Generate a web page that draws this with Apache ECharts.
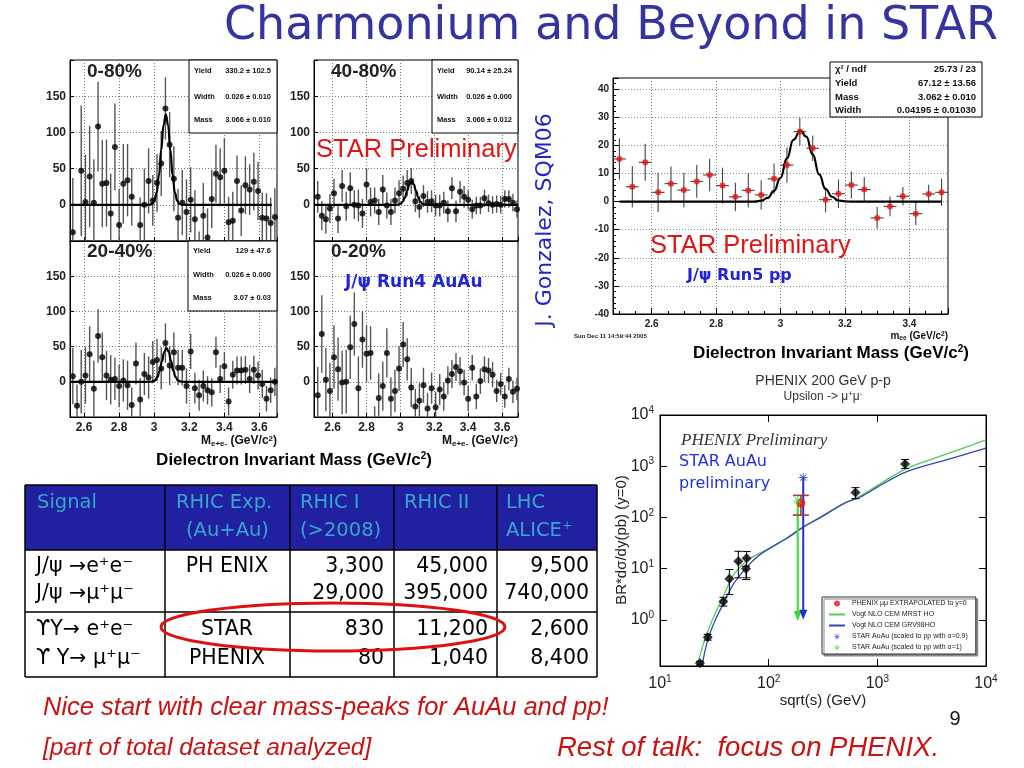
<!DOCTYPE html>
<html><head><meta charset="utf-8">
<script src="https://cdn.jsdelivr.net/npm/echarts@6/dist/echarts.min.js"></script>
<style>html,body{margin:0;padding:0;background:#fff}#c{width:1024px;height:768px}</style>
</head><body><div id="c"></div>
<script>
// ---------------- DATA ----------------
// STAR Run4 AuAu J/psi histograms (bin width 0.024 GeV/c^2)
const leftBins = Array.from({length: 49}, (_, i) => +(2.536 + 0.024 * i).toFixed(3));
const rightBins = Array.from({length: 50}, (_, i) => +(2.512 + 0.024 * i).toFixed(3));
const cent0080Vals = [-38,-75,47,4,39,3,108,29,30,-12,80,-28,29,34,11,-70,-28,0,33,6,30,57,133,83,36,-18,3,-10,7,-20,-62,-15,-45,8,43,38,47,-24,-22,33,-8,27,21,32,19,-18,-19,-25,-17];
const cent0080Errs = [75,20,90,65,70,60,62,60,60,55,60,50,55,50,40,20,38,50,45,35,40,45,43,45,45,40,45,45,45,40,25,45,40,40,40,40,45,35,40,35,35,40,35,40,40,35,35,35,40];
const cent4080Vals = [11,-15,-20,-5,16,-19,26,-2,23,0,-1,-12,28,4,6,-10,21,-1,-10,6,16,22,30,33,5,-3,12,4,5,-1,-1,3,-9,23,-9,18,11,7,-6,-1,-1,9,2,0,1,0,8,8,3,-6];
const cent4080Errs = [22,20,20,20,20,20,22,20,22,20,22,20,22,20,18,18,20,18,18,18,18,18,18,18,15,15,15,15,15,15,15,15,15,15,15,15,15,13,13,12,12,12,12,12,12,12,12,12,12,12];
const cent2040Vals = [8,-34,0,9,39,-10,65,35,9,3,4,-6,2,-5,-33,26,-25,11,6,28,31,19,55,23,42,20,20,-6,43,-9,-19,-6,-12,-15,42,4,22,-28,10,16,16,17,4,17,9,-3,-24,-12,0];
const cent2040Errs = [40,30,45,40,40,40,38,35,35,35,30,30,30,35,25,30,30,30,30,30,30,30,28,28,28,25,25,25,25,22,22,22,20,20,22,20,20,20,20,20,20,20,20,20,20,20,18,18,20];
const cent0020Vals = [-19,68,3,-13,35,18,-1,0,49,82,-9,60,40,41,-55,-23,-6,41,-24,-13,19,53,32,-8,-35,-27,-5,-38,-9,-36,-11,-21,2,11,21,15,-1,-24,20,-21,1,18,16,10,-13,-3,-21,4,-14,-10];
const cent0020Errs = [40,55,45,40,45,45,45,45,45,45,45,40,40,38,20,35,35,35,30,30,32,32,30,28,25,25,25,22,22,22,22,20,20,20,20,20,18,18,18,18,18,18,18,18,16,16,16,16,16,16];
// fit curves: [mass, counts]
const fit0080 = [[2.52,0],[2.96,0],[2.975,0.2],[2.988,1.4],[3.001,5.5],[3.014,16.9],[3.027,40.6],[3.040,75.8],[3.053,110],[3.066,125],[3.079,110],[3.092,75.8],[3.105,40.6],[3.118,16.9],[3.131,5.5],[3.144,1.4],[3.157,0.2],[3.17,0],[3.67,0]];
const fit4080 = [[2.49,0],[2.96,0],[2.975,0.05],[2.988,0.36],[3.001,1.4],[3.014,4.3],[3.027,10.4],[3.040,19.4],[3.053,28.2],[3.066,32],[3.079,28.2],[3.092,19.4],[3.105,10.4],[3.118,4.3],[3.131,1.4],[3.144,0.36],[3.157,0.05],[3.17,0],[3.694,0]];
const fit2040 = [[2.52,0],[2.964,0],[2.979,0.08],[2.992,0.53],[3.005,2.1],[3.018,6.5],[3.031,15.6],[3.044,29.1],[3.057,42.3],[3.070,48],[3.083,42.3],[3.096,29.1],[3.109,15.6],[3.122,6.5],[3.135,2.1],[3.148,0.53],[3.161,0.08],[3.174,0],[3.70,0]];
// STAR Run5 pp
const ppBins = Array.from({length: 26}, (_, i) => +(2.50 + 0.04 * i).toFixed(2));
const ppVals = [15.2,5.3,14,3.3,6.4,4.1,7.2,9.5,5.7,1.7,4,2.4,8.1,13,24.9,19,0.7,2.8,5.9,4.3,-5.8,-1.7,1.9,-4.3,2.7,3.3];
const ppErrs = [7.3,7.4,6.6,7,6.1,6.2,5.8,5.8,6.4,5,6.1,5.2,5.5,6.3,4.9,4.5,4.5,5.1,4.8,4.4,3.9,3.5,3.3,4,3.3,4.8];
const ppFit = [[2.50,0],[2.92,0],[2.94,0.37],[2.96,1.3],[2.98,3.8],[3.00,8.5],[3.02,15.4],[3.04,22],[3.062,25.3],[3.08,23.1],[3.10,16.8],[3.12,9.7],[3.14,4.5],[3.16,1.7],[3.18,0.4],[3.20,0.1],[3.22,0],[3.50,0]];
// PHENIX Upsilon world data
const worldSqrtS = [23.3, 27.5, 38.3, 43.5, 52.6, 62.7, 61.9, 630, 1800];
const worldY = [0.141, 0.457, 2.28, 6.3, 13.9, 15.9, 9.9, 305, 1100];
const worldLo = [0.13, 0.40, 1.85, 3.1, 6.6, 6.6, 6.1, 232, 900];
const worldHi = [0.155, 0.52, 2.75, 9.6, 21.8, 21.6, 11.1, 381, 1350];
const phenixPoint = [198, 190, 111, 269];
const starA09 = [208, 600, 1.0];
const starA10 = [185, 215, 0.95];
const mrstHO = [[22,0.126],[25,0.33],[27.5,0.59],[32,1.3],[38.3,2.86],[47,7.3],[62,13.9],[78,18.8],[100,24.3],[150,41],[200,62],[300,102],[500,190],[700,265],[1000,420],[1800,870],[5000,1920],[10000,3280]];
const grv98HO = [[24.3,0.126],[27.5,0.405],[32,0.95],[38.3,2.06],[47,4.85],[62,10.3],[78,16.9],[100,24.3],[150,40],[200,61],[300,100],[500,190],[700,250],[1000,390],[1800,760],[5000,1450],[10000,2250]];
// table
const tableHead1 = ['Signal', 'RHIC Exp.', 'RHIC I', 'RHIC II', 'LHC'];
const tableHead2 = ['', '(Au+Au)', '(>2008)', '', 'ALICE⁺'];
const tableSignal = ['J/ψ →e⁺e⁻', 'J/ψ →μ⁺μ⁻', 'ϒY→ e⁺e⁻', 'ϒ Y→ μ⁺μ⁻'];
const tableExp = ['PH ENIX', '', 'STAR', 'PHENIX'];
const tableRhic1 = ['3,300', '29,000', '830', '80'];
const tableRhic2 = ['45,000', '395,000', '11,200', '1,040'];
const tableLhc = ['9,500', '740,000', '2,600', '8,400'];

// ---------------- HELPERS ----------------
const SANS = 'Liberation Sans, Arial, sans-serif';
const COMIC = 'Comic Sans MS, DejaVu Sans, sans-serif';
function zip(bins, v, e) { return bins.map((x, i) => [x, v[i], e[i]]); }
function fmt02(v) { const r = Math.round(v * 5); return Math.abs(v * 5 - r) < 1e-6 ? String(+v.toFixed(1)) : ''; }
function histX(gi, min, max, labels) {
  return { type: 'value', gridIndex: gi, min: min, max: max,
    axisLine: { show: true, onZero: false, lineStyle: { color: '#000' } },
    axisTick: { show: true, inside: true, length: 4, lineStyle: { color: '#000' } },
    axisLabel: { show: labels, formatter: fmt02, fontFamily: SANS, fontWeight: 'bold', fontSize: 12, color: '#222', margin: 5 },
    splitLine: { show: true, lineStyle: { type: [1, 2], color: '#777' } } };
}
function histY(gi) {
  return { type: 'value', gridIndex: gi, min: -50, max: 200, interval: 50,
    axisLine: { show: true, onZero: false, lineStyle: { color: '#000' } },
    axisTick: { show: true, inside: true, length: 4, lineStyle: { color: '#000' } },
    axisLabel: { formatter: v => (v < 0 || v > 150) ? '' : String(v), fontFamily: SANS, fontWeight: 'bold', fontSize: 12, color: '#222', margin: 4 },
    splitLine: { show: true, lineStyle: { type: [1, 2], color: '#777' } } };
}
function errRender(color, lw, xerr) {
  return function (params, api) {
    const x = api.value(0), y = api.value(1), e = api.value(2);
    const cs = params.coordSys;
    const cl = v => Math.max(cs.y, Math.min(cs.y + cs.height, v));
    const t = api.coord([x, y + e]), b = api.coord([x, y - e]);
    if (t[0] < cs.x - 0.5 || t[0] > cs.x + cs.width + 0.5) return;
    const ch = [{ type: 'line', shape: { x1: t[0], y1: cl(t[1]), x2: b[0], y2: cl(b[1]) }, style: { stroke: color, lineWidth: lw } }];
    if (xerr) {
      const l = api.coord([x - xerr, y]), r = api.coord([x + xerr, y]);
      if (l[1] >= cs.y && l[1] <= cs.y + cs.height)
        ch.push({ type: 'line', shape: { x1: l[0], y1: l[1], x2: r[0], y2: r[1] }, style: { stroke: color, lineWidth: lw } });
    }
    return { type: 'group', children: ch };
  };
}
function capRender(color, lw, cap) {
  return function (params, api) {
    const x = api.value(0), lo = api.value(2), hi = api.value(3);
    const a = api.coord([x, hi]), b = api.coord([x, lo]);
    return { type: 'group', children: [
      { type: 'line', shape: { x1: a[0], y1: a[1], x2: b[0], y2: b[1] }, style: { stroke: color, lineWidth: lw } },
      { type: 'line', shape: { x1: a[0] - cap, y1: a[1], x2: a[0] + cap, y2: a[1] }, style: { stroke: color, lineWidth: lw } },
      { type: 'line', shape: { x1: b[0] - cap, y1: b[1], x2: b[0] + cap, y2: b[1] }, style: { stroke: color, lineWidth: lw } }] };
  };
}
function arrowRender(color) {
  return function (params, api) {
    const x = api.value(0), top = api.value(1), bot = api.value(2);
    const a = api.coord([x, top]), b = api.coord([x, bot]);
    const h = 10, w = 4;
    return { type: 'group', children: [
      { type: 'line', shape: { x1: a[0], y1: a[1], x2: b[0], y2: b[1] - h + 1 }, style: { stroke: color, lineWidth: 2 } },
      { type: 'polygon', shape: { points: [[b[0] - w, b[1] - h], [b[0] + w, b[1] - h], [b[0], b[1]]] }, style: { fill: color } }] };
  };
}
const ASTER = 'path://M4.5,0 L5.5,0 L5.5,10 L4.5,10Z M0,4.5 L10,4.5 L10,5.5 L0,5.5Z M1.1,1.8 L1.8,1.1 L8.9,8.2 L8.2,8.9Z M8.2,1.1 L8.9,1.8 L1.8,8.9 L1.1,8.2Z';
function logLabel(v) {
  const e = Math.log10(v); const r = Math.round(e);
  return Math.abs(e - r) < 1e-6 ? '10{s|' + r + '}' : '';
}
const logRich = { s: { fontSize: 10, verticalAlign: 'top', padding: [0, 0, 9, 0], fontFamily: SANS, color: '#222' } };

// ---------------- GRAPHIC (texts, table) ----------------
const G = [];
function txt(x, y, text, st, extra) {
  G.push(Object.assign({ type: 'text', x: x, y: y, z: 100, style: Object.assign({ text: text, fontFamily: SANS, fontSize: 12, fill: '#000', align: 'left', verticalAlign: 'middle' }, st) }, extra || {}));
}
function rect(x, y, w, h, st) { G.push({ type: 'rect', z: 99, shape: { x: x, y: y, width: w, height: h }, style: st }); }
function line(x1, y1, x2, y2, st) { G.push({ type: 'line', z: 101, shape: { x1: x1, y1: y1, x2: x2, y2: y2 }, style: st }); }

// title
txt(611, 27, 'Charmonium and Beyond in STAR', { fontFamily: COMIC, fontSize: 46, fill: '#3434a0', align: 'center' });
// panel labels
txt(87, 72, '0-80%', { fontSize: 19, fontWeight: 'bold', fill: '#222' });
txt(331, 72, '40-80%', { fontSize: 19, fontWeight: 'bold', fill: '#222' });
txt(87, 252, '20-40%', { fontSize: 19, fontWeight: 'bold', fill: '#222' });
txt(331, 252, '0-20%', { fontSize: 19, fontWeight: 'bold', fill: '#222' });
// stats boxes
function statBox(x, y, w, h, rows, ys, fs) {
  rect(x, y, w, h, { fill: '#fff', stroke: '#000', lineWidth: 1 });
  rows.forEach((r, i) => {
    txt(x + 5, ys[i], r[0], { fontSize: fs, fontWeight: 'bold', fill: '#111' });
    txt(x + w - 6, ys[i], r[1], { fontSize: fs, fontWeight: 'bold', fill: '#111', align: 'right' });
  });
}
statBox(189, 60, 88, 73, [['Yield', '330.2 ± 102.5'], ['Width', '0.026 ± 0.010'], ['Mass', '3.066 ± 0.010']], [71, 97, 120], 7.5);
statBox(432, 60, 86, 73, [['Yield', '90.14 ± 25.24'], ['Width', '0.026 ± 0.000'], ['Mass', '3.066 ± 0.012']], [71, 97, 120], 7.5);
statBox(188, 241, 89, 70, [['Yield', '129 ± 47.6'], ['Width', '0.026 ± 0.000'], ['Mass', '3.07 ± 0.03']], [251, 275, 298], 7.5);
statBox(830, 62, 152, 55, [['χ² / ndf', '25.73 / 23'], ['Yield', '67.12 ± 13.56'], ['Mass', '3.062 ± 0.010'], ['Width', '0.04195 ± 0.01030']], [69, 83, 97, 110], 9.5);
// overlays on AuAu panels
txt(316, 150, 'STAR Preliminary', { fontSize: 25.5, fill: '#e01515' });
txt(345, 283, 'J/ψ Run4 AuAu', { fontFamily: COMIC, fontSize: 17, fontWeight: 'bold', fill: '#2323d8' });
const mRich = { sub: { fontSize: 8, fontWeight: 'bold', verticalAlign: 'bottom', padding: [4, 0, 0, 0] }, sup: { fontSize: 8, fontWeight: 'bold', verticalAlign: 'top', padding: [0, 0, 5, 0] } };
txt(277, 441, 'M{sub|e+e-} (GeV/c{sup|2})', { fontSize: 12, fontWeight: 'bold', fill: '#111', align: 'right', rich: mRich });
txt(518, 441, 'M{sub|e+e-} (GeV/c{sup|2})', { fontSize: 12, fontWeight: 'bold', fill: '#111', align: 'right', rich: mRich });
const dRich = { sup: { fontSize: 10, fontWeight: 'bold', verticalAlign: 'top', padding: [0, 0, 7, 0] } };
txt(294, 460, 'Dielectron Invariant Mass (GeV/c{sup|2})', { fontSize: 17, fontWeight: 'bold', fill: '#000', align: 'center', rich: dRich });
// vertical credit
txt(545, 220, 'J. Gonzalez, SQM06', { fontFamily: COMIC, fontSize: 22, fill: '#2424cc', align: 'center' }, { rotation: Math.PI / 2 });
// pp overlays
txt(650, 246, 'STAR Preliminary', { fontSize: 25.5, fill: '#e01515' });
txt(687, 276, 'J/ψ Run5 pp', { fontFamily: COMIC, fontSize: 16, fontWeight: 'bold', fill: '#2323d8' });
txt(574, 336, 'Sun Dec 11 14:59:44 2005', { fontSize: 6, fontWeight: 'bold', fill: '#222' });
txt(948, 336, 'm{sub|ee} (GeV/c{sup|2})', { fontSize: 10, fontWeight: 'bold', fill: '#111', align: 'right', rich: { sub: { fontSize: 6.5, fontWeight: 'bold', verticalAlign: 'bottom', padding: [3, 0, 0, 0] }, sup: { fontSize: 6.5, fontWeight: 'bold', verticalAlign: 'top', padding: [0, 0, 4, 0] } } });
txt(831, 353, 'Dielectron Invariant Mass (GeV/c{sup|2})', { fontSize: 17, fontWeight: 'bold', fill: '#000', align: 'center', rich: dRich });
// PHENIX plot texts
txt(823, 381, 'PHENIX 200 GeV p-p', { fontSize: 14, fill: '#333', align: 'center' });
txt(823, 397, 'Upsilon -> μ{s|+}μ{s|-}', { fontSize: 12, fill: '#333', align: 'center', rich: { s: { fontSize: 8, verticalAlign: 'top', padding: [0, 0, 6, 0], fill: '#333' } } });
txt(622, 540, 'BR*dσ/dy(pb) (y=0)', { fontSize: 15, fill: '#222', align: 'center' }, { rotation: Math.PI / 2 });
txt(823, 701, 'sqrt(s) (GeV)', { fontSize: 15, fill: '#222', align: 'center' });
txt(681, 441, 'PHENIX Preliminary', { fontFamily: 'Liberation Serif, serif', fontStyle: 'italic', fontSize: 17, fill: '#333' });
txt(679, 462, 'STAR AuAu', { fontFamily: COMIC, fontSize: 16, fill: '#2233dd' });
txt(679, 484, 'preliminary', { fontFamily: COMIC, fontSize: 16, fill: '#2233dd' });
// bottom remarks
txt(43, 708, 'Nice start with clear mass-peaks for AuAu and pp!', { fontSize: 25.5, fontStyle: 'italic', fill: '#cc1111' });
txt(43, 748, '[part of total dataset analyzed]', { fontSize: 24.5, fontStyle: 'italic', fill: '#cc1111' });
txt(557, 748, 'Rest of talk:  focus on PHENIX.', { fontSize: 27.5, fontStyle: 'italic', fill: '#cc1111' });
txt(955, 719, '9', { fontSize: 20, fill: '#111', align: 'center' });
// table
const colX = [25, 165, 290, 394, 497, 597];
const rowY = [485, 550, 612, 677];
rect(25, 485, 572, 65, { fill: '#2020a0' });
rect(25, 550, 572, 127, { fill: '#fff' });
line(25, 485, 597, 485, { stroke: '#000', lineWidth: 1.5 });
rowY.slice(1).forEach(y => line(25, y, 597, y, { stroke: '#000', lineWidth: 1.5 }));
colX.forEach(x => line(x, 485, x, 677, { stroke: '#000', lineWidth: 1.5 }));
const headX = [37, 176, 300, 404, 506];
tableHead1.forEach((t, i) => txt(headX[i], 503, t, { fontFamily: COMIC, fontSize: 19.5, fill: '#35a8cc' }));
const head2X = [37, 186, 300, 404, 506];
tableHead2.forEach((t, i) => { if (t) txt(head2X[i], 531, t, { fontFamily: COMIC, fontSize: 19.5, fill: '#35a8cc' }); });
const bodyY = [567, 594, 630, 659];
const BODY = { fontFamily: COMIC, fontSize: 20.5, fill: '#000' };
tableSignal.forEach((t, i) => txt(36, bodyY[i], t, BODY));
tableExp.forEach((t, i) => { if (t) txt(227, bodyY[i], t, Object.assign({ align: 'center' }, BODY)); });
tableRhic1.forEach((t, i) => txt(384, bodyY[i], t, Object.assign({ align: 'right' }, BODY)));
tableRhic2.forEach((t, i) => txt(488, bodyY[i], t, Object.assign({ align: 'right' }, BODY)));
tableLhc.forEach((t, i) => txt(589, bodyY[i], t, Object.assign({ align: 'right' }, BODY)));
G.push({ type: 'ellipse', z: 102, shape: { cx: 333, cy: 627, rx: 172, ry: 24 }, style: { fill: 'none', stroke: '#e01010', lineWidth: 3 } });

// ---------------- CHART ----------------
const BLACK_DOT = { color: '#000' };
function histSeries(gi, data, fit) {
  const s = [
    { type: 'custom', xAxisIndex: gi, yAxisIndex: gi, renderItem: errRender('#555', 1.4, 0), data: data, encode: { x: 0, y: 1 }, z: 2, silent: true },
    { type: 'scatter', xAxisIndex: gi, yAxisIndex: gi, data: data.map(d => [d[0], d[1]]), symbolSize: 6, itemStyle: BLACK_DOT, z: 4, silent: true }
  ];
  if (fit) s.push({ type: 'line', xAxisIndex: gi, yAxisIndex: gi, data: fit, showSymbol: false, symbol: 'none', smooth: true, smoothMonotone: 'x', lineStyle: { color: '#000', width: 2.2 }, z: 3, silent: true });
  return s;
}
const option = {
  animation: false,
  backgroundColor: '#fff',
  textStyle: { fontFamily: SANS },
  grid: [
    { left: 70, top: 60, width: 207, height: 181, show: true, borderColor: '#000', borderWidth: 1 },
    { left: 314, top: 60, width: 204, height: 181, show: true, borderColor: '#000', borderWidth: 1 },
    { left: 70, top: 241, width: 207, height: 176, show: true, borderColor: '#000', borderWidth: 1 },
    { left: 314, top: 241, width: 204, height: 176, show: true, borderColor: '#000', borderWidth: 1 },
    { left: 613, top: 78, width: 335, height: 236, show: true, borderColor: '#000', borderWidth: 1 },
    { left: 660, top: 415, width: 326, height: 251, show: true, borderColor: '#000', borderWidth: 1 }
  ],
  xAxis: [
    histX(0, 2.52, 3.70, false), histX(1, 2.49, 3.694, false), histX(2, 2.52, 3.70, true), histX(3, 2.49, 3.694, true),
    { type: 'value', gridIndex: 4, min: 2.48, max: 3.52,
      axisLine: { show: true, onZero: false, lineStyle: { color: '#000' } },
      axisTick: { show: true, inside: true, length: 6, lineStyle: { color: '#000' } },
      minorTick: { show: true, splitNumber: 4, length: 3, lineStyle: { color: '#000' } },
      axisLabel: { formatter: fmt02, fontWeight: 'bold', fontSize: 10, color: '#222', margin: 5 },
      splitLine: { show: true, lineStyle: { type: [1, 2], color: '#888' } } },
    { type: 'log', gridIndex: 5, min: 10, max: 10000, logBase: 10,
      axisLine: { show: true, onZero: false, lineStyle: { color: '#000' } },
      axisTick: { show: true, inside: true, length: 7, lineStyle: { color: '#000' } },
      axisLabel: { formatter: logLabel, fontSize: 16, color: '#222', margin: 8, rich: logRich },
      splitLine: { show: false } },
    { type: 'log', gridIndex: 5, min: 10, max: 10000, logBase: 10, position: 'top',
      axisLine: { show: true, lineStyle: { color: '#000' } },
      axisTick: { show: true, inside: true, length: 7, lineStyle: { color: '#000' } },
      axisLabel: { show: false }, splitLine: { show: false } }
  ],
  yAxis: [
    histY(0), histY(1), histY(2), histY(3),
    { type: 'value', gridIndex: 4, min: -40, max: 44, interval: 10,
      axisLine: { show: true, onZero: false, lineStyle: { color: '#000' } },
      axisTick: { show: true, inside: true, length: 6, lineStyle: { color: '#000' } },
      minorTick: { show: true, splitNumber: 5, length: 3, lineStyle: { color: '#000' } },
      axisLabel: { formatter: v => v > 40 ? '' : String(v), fontWeight: 'bold', fontSize: 10, color: '#222', margin: 4 },
      splitLine: { show: true, lineStyle: { type: [1, 2], color: '#888' } } },
    { type: 'log', gridIndex: 5, min: 0.125, max: 10000, logBase: 10,
      axisLine: { show: true, onZero: false, lineStyle: { color: '#000' } },
      axisTick: { show: true, inside: true, length: 7, lineStyle: { color: '#000' } },
      axisLabel: { formatter: logLabel, fontSize: 16, color: '#222', margin: 6, rich: logRich },
      splitLine: { show: false } },
    { type: 'log', gridIndex: 5, min: 0.125, max: 10000, logBase: 10, position: 'right',
      axisLine: { show: true, lineStyle: { color: '#000' } },
      axisTick: { show: true, inside: true, length: 7, lineStyle: { color: '#000' } },
      axisLabel: { show: false }, splitLine: { show: false } }
  ],
  legend: {
    left: 822, top: 597, orient: 'vertical', itemGap: 4, itemWidth: 16, itemHeight: 6,
    padding: [3, 8, 3, 6], backgroundColor: '#fff', borderColor: '#333', borderWidth: 1,
    shadowColor: '#888', shadowOffsetX: 2, shadowOffsetY: 2, shadowBlur: 0,
    textStyle: { fontSize: 7, color: '#222', fontFamily: SANS, padding: [0, 0, 0, 2] },
    selectedMode: false,
    data: [
      { name: 'PHENIX μμ EXTRAPOLATED to y=0' },
      { name: 'Vogt NLO CEM MRST HO', itemStyle: { opacity: 0 } },
      { name: 'Vogt NLO CEM GRV98HO', itemStyle: { opacity: 0 } },
      { name: 'STAR AuAu (scaled to pp with α=0.9)' },
      { name: 'STAR AuAu (scaled to pp with α=1)' }
    ]
  },
  graphic: { elements: G },
  series: [].concat(
    histSeries(0, zip(leftBins, cent0080Vals, cent0080Errs), fit0080),
    histSeries(1, zip(rightBins, cent4080Vals, cent4080Errs), fit4080),
    histSeries(2, zip(leftBins, cent2040Vals, cent2040Errs), fit2040),
    histSeries(3, zip(rightBins, cent0020Vals, cent0020Errs), null),
    [
      { type: 'custom', xAxisIndex: 4, yAxisIndex: 4, renderItem: errRender('#444', 1.1, 0.02), data: zip(ppBins, ppVals, ppErrs), encode: { x: 0, y: 1 }, z: 2, silent: true },
      { type: 'line', xAxisIndex: 4, yAxisIndex: 4, data: ppFit, symbol: 'none', smooth: true, smoothMonotone: 'x', lineStyle: { color: '#000', width: 2.2 }, z: 3, silent: true },
      { type: 'scatter', xAxisIndex: 4, yAxisIndex: 4, data: ppBins.map((x, i) => [x, ppVals[i]]), symbolSize: 6, itemStyle: { color: '#ee1111' }, z: 4, silent: true },
      // PHENIX plot
      { name: 'Vogt NLO CEM MRST HO', type: 'line', xAxisIndex: 5, yAxisIndex: 5, data: mrstHO, symbol: 'none', smooth: 0.3, lineStyle: { color: '#55cc55', width: 1.3 }, itemStyle: { color: '#55cc55' }, z: 3, silent: true },
      { name: 'Vogt NLO CEM GRV98HO', type: 'line', xAxisIndex: 5, yAxisIndex: 5, data: grv98HO, symbol: 'none', smooth: 0.3, lineStyle: { color: '#3344bb', width: 1.3 }, itemStyle: { color: '#3344bb' }, z: 3, silent: true },
      { type: 'custom', xAxisIndex: 5, yAxisIndex: 5, renderItem: capRender('#000', 1, 4), data: worldSqrtS.map((x, i) => [x, worldY[i], worldLo[i], worldHi[i]]), encode: { x: 0, y: 1 }, z: 4, silent: true },
      { type: 'scatter', xAxisIndex: 5, yAxisIndex: 5, data: worldSqrtS.map((x, i) => [x, worldY[i]]), symbol: 'diamond', symbolSize: 10, itemStyle: { color: '#000' }, z: 5, silent: true },
      { type: 'custom', xAxisIndex: 5, yAxisIndex: 5, renderItem: arrowRender('#33dd33'), data: [starA10], encode: { x: 0, y: 1 }, z: 6, silent: true },
      { type: 'custom', xAxisIndex: 5, yAxisIndex: 5, renderItem: arrowRender('#2233cc'), data: [starA09], encode: { x: 0, y: 1 }, z: 6, silent: true },
      { type: 'custom', xAxisIndex: 5, yAxisIndex: 5, renderItem: capRender('#b03535', 1.6, 8), data: [phenixPoint], encode: { x: 0, y: 1 }, z: 7, silent: true },
      { name: 'PHENIX μμ EXTRAPOLATED to y=0', type: 'scatter', xAxisIndex: 5, yAxisIndex: 5, data: [[phenixPoint[0], phenixPoint[1]]], symbol: 'circle', symbolSize: 9, itemStyle: { color: '#ee1111' }, z: 8, silent: true },
      { name: 'STAR AuAu (scaled to pp with α=0.9)', type: 'scatter', xAxisIndex: 5, yAxisIndex: 5, data: [[starA09[0], starA09[1]]], symbol: ASTER, symbolSize: 9, itemStyle: { color: '#2233cc' }, z: 8, silent: true },
      { name: 'STAR AuAu (scaled to pp with α=1)', type: 'scatter', xAxisIndex: 5, yAxisIndex: 5, data: [[starA10[0], starA10[1]]], symbol: ASTER, symbolSize: 9, itemStyle: { color: '#33dd33' }, z: 8, silent: true }
    ]
  )
};
const chart = echarts.init(document.getElementById('c'));
chart.setOption(option);
</script>
</body></html>
